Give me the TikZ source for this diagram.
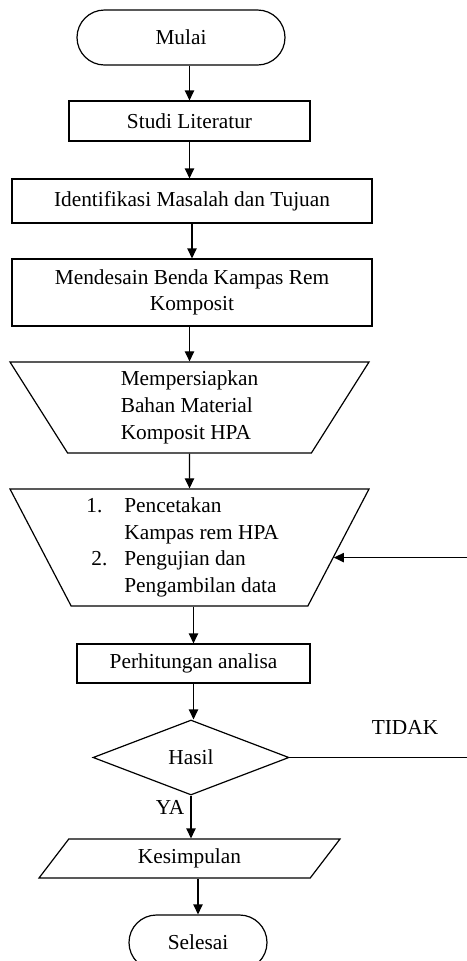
\documentclass[tikz,border=0pt]{standalone}
\usepackage{fontspec}
\setmainfont{Liberation Serif}
\usetikzlibrary{shapes.misc, shapes.geometric, arrows.meta}

\begin{document}
\begin{tikzpicture}[x=0.75pt, y=-0.75pt,
  every node/.style={font=\fontsize{16pt}{20pt}\selectfont},
  box/.style={draw, line width=0.9pt, inner sep=0pt},
  terminal/.style={box, rounded rectangle},
  process/.style={box, rectangle},
  manual/.style={box, trapezium, trapezium stretches body, align=left},
  decision/.style={box, diamond},
  io/.style={box, trapezium, trapezium left angle=33, trapezium right angle=147, trapezium stretches body},
  arr/.style={-{Triangle[length=7.5pt,width=7pt]}, line width=0.9pt}]
\useasboundingbox (0,0) rectangle (467,961);

\node[terminal, minimum width=156pt, minimum height=41.25pt] (mulai) at (181,37.5) {Mulai};
\node[process, minimum width=180.75pt, minimum height=30pt] (studi) at (189.5,121) {Studi Literatur};
\node[process, minimum width=270pt, minimum height=33pt] (masalah) at (192,201) {Identifikasi Masalah dan Tujuan};
\node[process, minimum width=270pt, minimum height=50.25pt, align=center] (desain) at (192,292.5) {Mendesain Benda Kampas Rem\\Komposit};
\node[manual, trapezium left angle=128.4, trapezium right angle=128.4, minimum width=269.25pt, minimum height=68.25pt] (bahan) at (189.5,407.5) {Mempersiapkan\\Bahan Material\\Komposit HPA};
\node[manual, trapezium left angle=121.6, trapezium right angle=121.6, minimum width=269.25pt, minimum height=87.75pt] (cetak) at (189.5,547.5) {\makebox[28.5pt][l]{1.}Pencetakan\\\hspace*{28.5pt}Kampas rem HPA\\\makebox[28.5pt][l]{\hspace{3.75pt}2.}Pengujian dan\\\hspace*{28.5pt}Pengambilan data\hspace*{12pt}};
\node[process, minimum width=174.75pt, minimum height=29.25pt] (hitung) at (193.5,663.5) {Perhitungan analisa};
\node[decision, minimum width=147pt, minimum height=56.25pt] (hasil) at (191,757.5) {Hasil};
\node[io, minimum width=225.75pt, minimum height=29.25pt] (simpul) at (189.5,858.5) {Kesimpulan};
\node[terminal, minimum width=103.5pt, minimum height=41.25pt] (selesai) at (198,942.5) {Selesai};
\node (tidak) at (405,727) {TIDAK};
\node (ya) at (170,807) {YA};
\coordinate (loopx) at (472,0);

\draw[arr] (mulai.south -| studi.north) -- (studi.north);
\draw[arr] (studi.south) -- (studi.south |- masalah.north);
\draw[arr] (masalah.south) -- (desain.north);
\draw[arr] (desain.south -| bahan.north) -- (bahan.north);
\draw[arr] (bahan.south) -- (cetak.north);
\draw[arr] (cetak.south -| hitung.north) -- (hitung.north);
\draw[arr] (hitung.south) -- (hitung.south |- hasil.north);
\draw[arr] (hasil.south) -- (hasil.south |- simpul.north);
\draw[arr] (simpul.south -| selesai.north) -- (selesai.north);
\draw[arr] (hasil.east) -- (hasil.east -| loopx) |- (cetak.-4.4);

\end{tikzpicture}
\end{document}
